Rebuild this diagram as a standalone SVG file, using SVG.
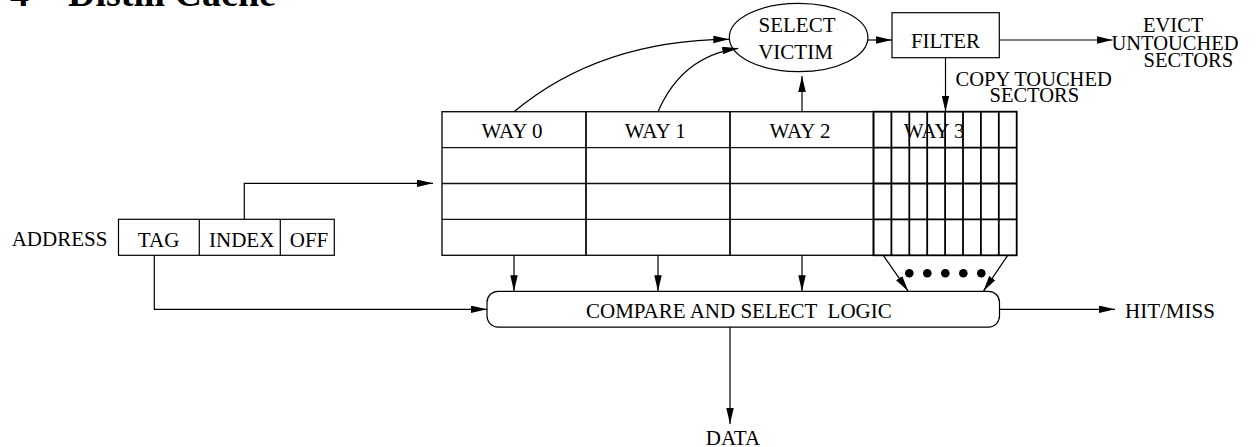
<svg xmlns="http://www.w3.org/2000/svg" width="1260" height="447" viewBox="0 0 1260 447">
<style>
  text { font-family: "Liberation Serif", "Times New Roman", serif; font-size: 21px; fill: #000; }
  .title { font-size: 38px; font-weight: bold; }
  .stack { font-size: 20.5px; }
  .mid { text-anchor: middle; }
  .box { fill: #fff; stroke: #000; stroke-width: 1.2; }
  .grid { fill: none; stroke: #111; stroke-width: 1.4; }
  .grid3 { fill: none; stroke: #000; stroke-width: 1.8; }
  .conn { fill: none; stroke: #000; stroke-width: 1.2; marker-end: url(#arrow); }
  .plain { fill: none; stroke: #000; stroke-width: 1.2; }
</style>
<defs>
  <marker id="arrow" markerUnits="userSpaceOnUse" markerWidth="16" markerHeight="8" refX="16" refY="3.75" orient="auto">
    <path d="M0,0 L16,3.75 L0,7.5 z" fill="#000"/>
  </marker>
</defs>
<rect width="1260" height="447" fill="#fff"/>

<g id="title">
  <text class="title" x="10" y="6">4</text>
  <text class="title" x="68" y="6">Distill Cache</text>
</g>

<g id="select-victim">
  <ellipse cx="798.6" cy="37.5" rx="69.3" ry="34.2" class="box"/>
  <text class="mid" x="797" y="31.7">SELECT</text>
  <text class="mid" x="795.5" y="59.3">VICTIM</text>
</g>

<g id="filter">
  <rect x="892" y="12.7" width="107.3" height="45" class="box"/>
  <text class="mid" x="945.5" y="48.3">FILTER</text>
</g>

<g id="evict-label">
  <text class="stack" x="1143" y="31.7">EVICT</text>
  <text class="stack" x="1111.5" y="50">UNTOUCHED</text>
  <text class="stack" x="1143.5" y="66.7">SECTORS</text>
</g>

<g id="copy-label">
  <text class="stack" x="955.5" y="86">COPY TOUCHED</text>
  <text class="stack" x="989.5" y="101.7">SECTORS</text>
</g>

<g id="cache-table">
  <g id="way0">
    <rect x="442" y="111.7" width="144" height="143.6" class="grid"/>
    <line x1="442" y1="147.6" x2="586" y2="147.6" class="grid"/>
    <line x1="442" y1="183.5" x2="586" y2="183.5" class="grid"/>
    <line x1="442" y1="219.4" x2="586" y2="219.4" class="grid"/>
    <text class="mid" x="512" y="138.3">WAY 0</text>
  </g>
  <g id="way1">
    <rect x="586" y="111.7" width="144" height="143.6" class="grid"/>
    <line x1="586" y1="147.6" x2="730" y2="147.6" class="grid"/>
    <line x1="586" y1="183.5" x2="730" y2="183.5" class="grid"/>
    <line x1="586" y1="219.4" x2="730" y2="219.4" class="grid"/>
    <text class="mid" x="655.3" y="138.3">WAY 1</text>
  </g>
  <g id="way2">
    <rect x="730" y="111.7" width="143.5" height="143.6" class="grid"/>
    <line x1="730" y1="147.6" x2="873.5" y2="147.6" class="grid"/>
    <line x1="730" y1="183.5" x2="873.5" y2="183.5" class="grid"/>
    <line x1="730" y1="219.4" x2="873.5" y2="219.4" class="grid"/>
    <text class="mid" x="800" y="138.3">WAY 2</text>
  </g>
  <g id="way3">
    <text class="mid" x="934.2" y="138.3">WAY 3</text>
    <rect x="873.5" y="111.7" width="143.2" height="143.6" class="grid3"/>
    <line x1="873.5" y1="147.6" x2="1016.7" y2="147.6" class="grid3"/>
    <line x1="873.5" y1="183.5" x2="1016.7" y2="183.5" class="grid3"/>
    <line x1="873.5" y1="219.4" x2="1016.7" y2="219.4" class="grid3"/>
    <path class="grid3" d="M891.4,111.7V255.3 M909.3,111.7V255.3 M927.2,111.7V255.3 M945.1,111.7V255.3 M963,111.7V255.3 M980.9,111.7V255.3 M998.8,111.7V255.3"/>
  </g>
</g>

<g id="address">
  <text x="11.7" y="246">ADDRESS</text>
  <rect x="118.5" y="219.3" width="215.8" height="36" class="box"/>
  <line x1="199.3" y1="219.3" x2="199.3" y2="255.3" class="plain"/>
  <line x1="280.3" y1="219.3" x2="280.3" y2="255.3" class="plain"/>
  <text class="mid" x="158.6" y="246.7">TAG</text>
  <text class="mid" x="241.7" y="246.7">INDEX</text>
  <text class="mid" x="309" y="246.7">OFF</text>
</g>

<g id="compare">
  <rect x="487" y="291.3" width="512.5" height="35.8" rx="11" ry="11" class="box"/>
  <text x="586" y="318" xml:space="preserve">COMPARE AND SELECT  LOGIC</text>
</g>

<g id="dots">
  <circle cx="909.3" cy="273.3" r="4.3" fill="#000"/>
  <circle cx="927.3" cy="273.3" r="4.3" fill="#000"/>
  <circle cx="945.3" cy="273.3" r="4.3" fill="#000"/>
  <circle cx="963.3" cy="273.3" r="4.3" fill="#000"/>
  <circle cx="981.3" cy="273.3" r="4.3" fill="#000"/>
</g>

<g id="hit-miss">
  <text x="1125" y="318.3">HIT/MISS</text>
</g>

<g id="data">
  <text class="mid" x="733" y="445">DATA</text>
</g>

<g id="connectors">
  <path class="conn" d="M514,111.7 Q600,40 729.3,39.3"/>
  <path class="conn" d="M658,111.7 Q682,56 738.3,48.3"/>
  <path class="conn" d="M802,111.7 L802,76"/>
  <path class="conn" d="M868,40 L892,40"/>
  <path class="conn" d="M999.3,40 L1112.5,40"/>
  <path class="conn" d="M945.5,57.7 L945.5,111.7"/>
  <path class="conn" d="M244.3,219.3 V183.3 H433"/>
  <path class="conn" d="M154.3,255.3 V309.3 H487"/>
  <path class="conn" d="M514,255.3 V291.3"/>
  <path class="conn" d="M658,255.3 V291.3"/>
  <path class="conn" d="M802,255.3 V291.3"/>
  <path class="conn" d="M883.3,255.3 L908.3,291.3"/>
  <path class="conn" d="M1007.7,255.3 L983.3,291.3"/>
  <path class="conn" d="M999.5,309.3 H1115"/>
  <path class="conn" d="M730,327.1 V424"/>
</g>
</svg>
